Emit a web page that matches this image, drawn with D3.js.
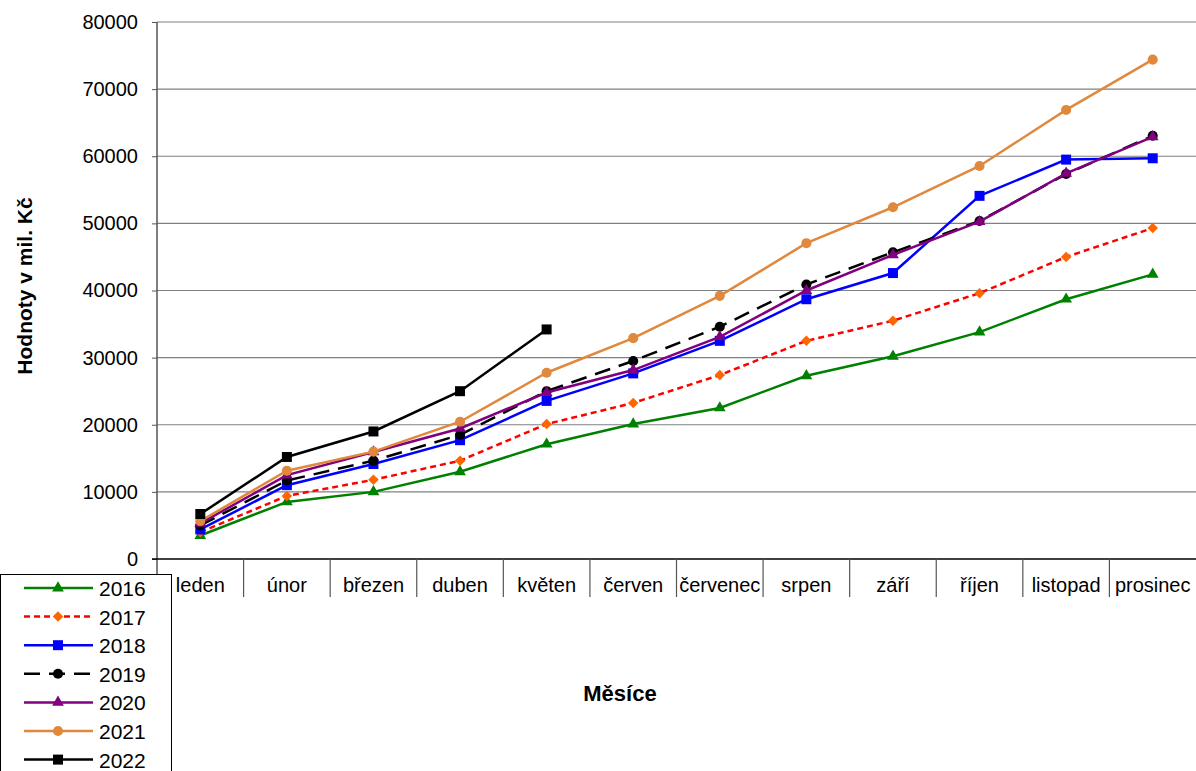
<!DOCTYPE html>
<html>
<head>
<meta charset="utf-8">
<script src="https://cdn.jsdelivr.net/npm/d3@7"></script>
<style>
  body { margin: 0; background: #fff; }
  svg { display: block; font-family: "Liberation Sans", Arial, sans-serif; }
</style>
</head>
<body>
<div id="chart"></div>
<script>
// months and yearly cumulative values (mil. Kč)
const months = ['leden', 'únor', 'březen', 'duben', 'květen', 'červen', 'červenec', 'srpen', 'září', 'říjen', 'listopad', 'prosinec'];
const yTicks = [0, 10000, 20000, 30000, 40000, 50000, 60000, 70000, 80000];

const y2016 = [3500, 8500, 10000, 13000, 17100, 20100, 22500, 27300, 30200, 33800, 38700, 42400];
const y2017 = [4000, 9400, 11800, 14650, 20100, 23250, 27400, 32500, 35500, 39600, 45000, 49300];
const y2018 = [4400, 11000, 14150, 17700, 23550, 27650, 32500, 38700, 42600, 54100, 59500, 59700];
const y2019 = [5000, 11700, 14650, 18500, 25000, 29500, 34600, 40900, 45700, 50350, 57350, 63050];
const y2020 = [5300, 12500, 15950, 19450, 24800, 28150, 33100, 40000, 45300, 50250, 57450, 62900];
const y2021 = [5650, 13150, 16000, 20450, 27750, 32900, 39200, 47050, 52400, 58550, 66900, 74400];
const y2022 = [6700, 15200, 19000, 25000, 34200];

const series = [
  { name: '2016', values: y2016, color: '#008000', mark: '#008000', shape: 'triangle', dash: null },
  { name: '2017', values: y2017, color: '#ff0000', mark: '#ff6600', shape: 'diamond', dash: '6,4' },
  { name: '2018', values: y2018, color: '#0000ff', mark: '#0000ff', shape: 'square', dash: null },
  { name: '2019', values: y2019, color: '#000000', mark: '#000000', shape: 'circle', dash: '16,9' },
  { name: '2020', values: y2020, color: '#800080', mark: '#800080', shape: 'triangle', dash: null },
  { name: '2021', values: y2021, color: '#e0883c', mark: '#e0883c', shape: 'circle', dash: null },
  { name: '2022', values: y2022, color: '#000000', mark: '#000000', shape: 'square', dash: null }
];

const W = 1196, H = 771;
const plot = { left: 157, right: 1196, top: 22, bottom: 559 };

const svg = d3.select('#chart').append('svg')
  .attr('width', W).attr('height', H);

const x = d3.scaleBand().domain(months).range([plot.left, plot.right]).padding(0);
const y = d3.scaleLinear().domain([0, 80000]).range([plot.bottom, plot.top]);

// gridlines
svg.append('g')
  .selectAll('line')
  .data(yTicks.slice(1))
  .enter().append('line')
  .attr('x1', plot.left).attr('x2', plot.right)
  .attr('y1', d => y(d)).attr('y2', d => y(d))
  .attr('stroke', '#808080').attr('stroke-width', 1.2);

// y axis
const yAxis = svg.append('g')
  .attr('transform', `translate(${plot.left},0)`)
  .call(d3.axisLeft(y).tickValues(yTicks).tickSize(5).tickPadding(14).tickFormat(d3.format('d')));
yAxis.select('.domain').attr('stroke', '#555').attr('stroke-width', 1.5)
  .attr('d', `M0,${plot.top}V${plot.bottom + 15}`);
yAxis.selectAll('.tick line').attr('stroke', '#555');
yAxis.selectAll('text').attr('font-size', 20).attr('fill', '#000')
  .attr('font-family', '"Liberation Sans", Arial, sans-serif');

// x axis line and category cells
svg.append('line')
  .attr('x1', plot.left - 5).attr('x2', plot.right)
  .attr('y1', plot.bottom).attr('y2', plot.bottom)
  .attr('stroke', '#000').attr('stroke-width', 1.5);

svg.append('g')
  .selectAll('line')
  .data(months.slice(1))
  .enter().append('line')
  .attr('x1', d => x(d)).attr('x2', d => x(d))
  .attr('y1', plot.bottom).attr('y2', plot.bottom + 38)
  .attr('stroke', '#555').attr('stroke-width', 1.2);

svg.append('g')
  .selectAll('text')
  .data(months)
  .enter().append('text')
  .attr('x', d => x(d) + x.bandwidth() / 2)
  .attr('y', plot.bottom + 33)
  .attr('text-anchor', 'middle')
  .attr('font-size', 20)
  .text(d => d);

// axis titles
svg.append('text')
  .attr('transform', 'translate(32 286) rotate(-90)')
  .attr('text-anchor', 'middle')
  .attr('font-size', 21).attr('font-weight', 'bold')
  .text('Hodnoty v mil. Kč');

svg.append('text')
  .attr('x', 620).attr('y', 701)
  .attr('text-anchor', 'middle')
  .attr('font-size', 22).attr('font-weight', 'bold')
  .text('Měsíce');

// marker shapes (diamond = square turned 45°)
const symbolFor = s => ({
  triangle: d3.symbol(d3.symbolTriangle, 60),
  diamond: d3.symbol(d3.symbolSquare, 55),
  square: d3.symbol(d3.symbolSquare, 100),
  circle: d3.symbol(d3.symbolCircle, 80)
}[s]);
const rot = s => (s === 'diamond' ? ' rotate(45)' : '');

const line = d3.line()
  .x((d, i) => x(months[i]) + x.bandwidth() / 2)
  .y(d => y(d));

const groups = svg.append('g')
  .selectAll('g')
  .data(series)
  .enter().append('g');

groups.append('path')
  .attr('d', d => line(d.values))
  .attr('fill', 'none')
  .attr('stroke', d => d.color)
  .attr('stroke-width', 2.5)
  .attr('stroke-dasharray', d => d.dash);

groups.each(function (s) {
  d3.select(this).selectAll('path.pt')
    .data(s.values)
    .enter().append('path')
    .attr('class', 'pt')
    .attr('d', symbolFor(s.shape)())
    .attr('transform', (d, i) => `translate(${x(months[i]) + x.bandwidth() / 2} ${y(d)})${rot(s.shape)}`)
    .attr('fill', s.mark);
});

// legend
const legend = svg.append('g');
legend.append('rect')
  .attr('x', 0.5).attr('y', 574.5)
  .attr('width', 171).attr('height', 200)
  .attr('fill', '#fff').attr('stroke', '#000').attr('stroke-width', 1);

const items = legend.selectAll('g')
  .data(series)
  .enter().append('g')
  .attr('transform', (d, i) => `translate(0 ${588 + i * 28.6})`);

items.append('line')
  .attr('x1', 24).attr('x2', 93)
  .attr('stroke', d => d.color)
  .attr('stroke-width', 2.5)
  .attr('stroke-dasharray', d => d.dash);

items.append('path')
  .attr('d', d => symbolFor(d.shape)())
  .attr('transform', d => `translate(58 0)${rot(d.shape)}`)
  .attr('fill', d => d.mark);

items.append('text')
  .attr('x', 99).attr('y', 8)
  .attr('font-size', 21)
  .text(d => d.name);
</script>
</body>
</html>
